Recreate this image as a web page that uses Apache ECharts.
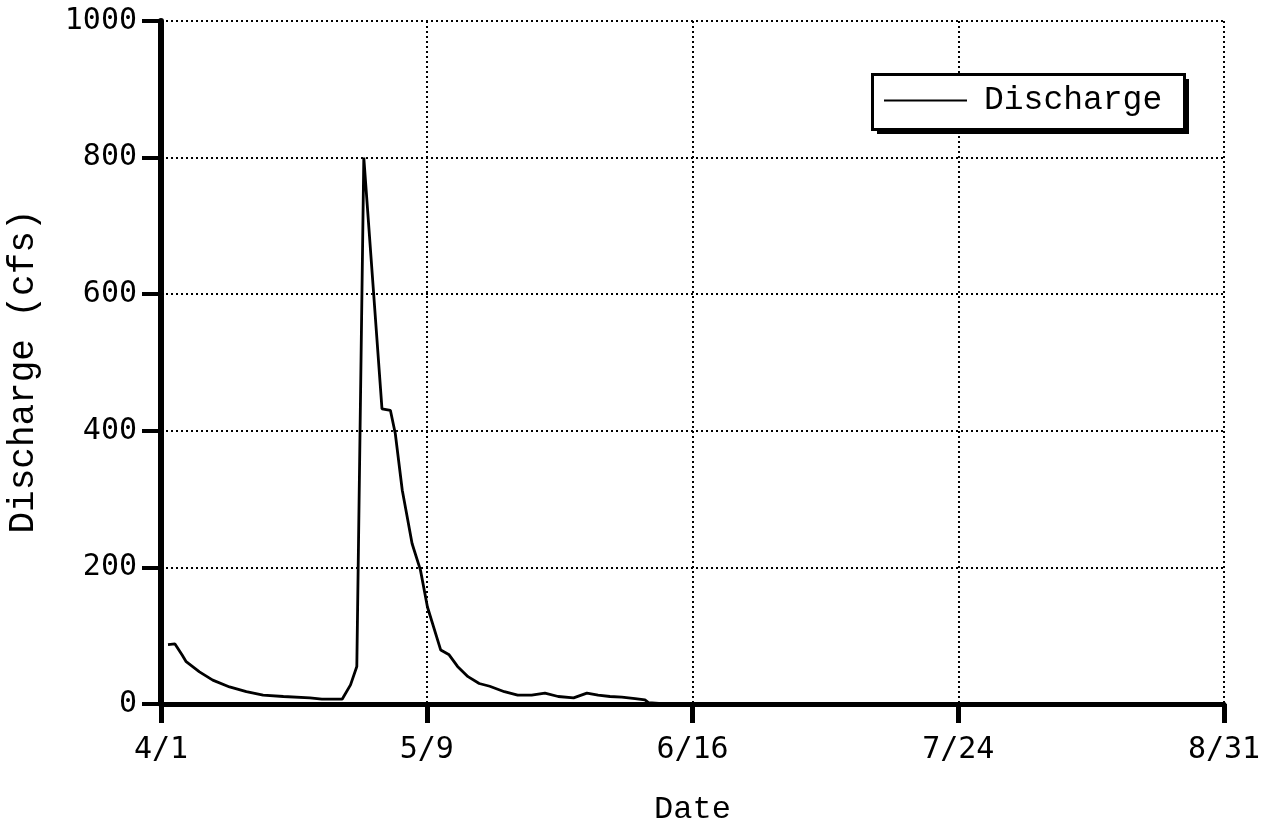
<!DOCTYPE html>
<html>
<head>
<meta charset="utf-8">
<script src="https://cdn.jsdelivr.net/npm/echarts@6/dist/echarts.min.js"></script>
<style>
html,body{margin:0;padding:0;background:#fff;}
#chart{width:1272px;height:826px;}
</style>
</head>
<body>
<div id="chart"></div>
<script>
// Days since 4/1 and discharge (cfs)
var days = [1, 2, 3, 3.6, 5.5, 7.4, 9.8, 12.2, 14.6, 17.5, 21.3, 23, 25.9, 27.1, 28, 29,
  31.6, 32.8, 33.5, 34.5, 35.2, 35.9, 37.1, 38.1, 40, 41.2, 42.4, 43.9, 45.5, 47, 49.1,
  51, 53, 54.9, 56.8, 59, 60.9, 62.5, 64.2, 65.9, 67.8, 69.2, 69.7, 71.2];
var discharge = [87, 88, 72, 62, 47, 35, 25, 18, 13, 11, 9, 7, 7, 28, 55, 800,
  432, 430, 396, 313, 274, 235, 196, 142, 79, 72, 55, 40, 30, 26, 18,
  13, 13, 16, 11, 9, 16, 13, 11, 10, 8, 6, 2, 1];
var xTickLabels = ['4/1', '5/9', '6/16', '7/24', '8/31'];
var yTickLabels = ['0', '200', '400', '600', '800', '1000'];
var seriesName = 'Discharge';
var xTitle = 'Date';
var yTitle = 'Discharge (cfs)';

var points = days.map(function (d, i) { return [d, discharge[i]]; });

var chart = echarts.init(document.getElementById('chart'), null, {renderer: 'canvas'});
var tickFont = {fontFamily: 'DejaVu Sans Mono', fontSize: 30, color: '#000'};
var gridLine = {show: true, lineStyle: {color: '#000', type: [2, 3], width: 2}};

chart.setOption({
  backgroundColor: '#fff',
  animation: false,
  grid: {left: 161, right: 48, top: 21, bottom: 122, containLabel: false, outerBoundsMode: 'none'},
  graphic: [
    {type: 'rect', left: 877, top: 79, shape: {width: 312, height: 55}, style: {fill: '#000'}, z: 10},
    {type: 'rect', left: 871, top: 73, shape: {width: 312, height: 55}, style: {fill: '#fff', stroke: '#000', lineWidth: 3}, z: 11}
  ],
  legend: {
    data: [seriesName],
    left: 871, top: 74,
    padding: [10, 20, 10, 13],
    z: 20,
    icon: 'rect',
    itemWidth: 83, itemHeight: 2,
    itemStyle: {color: '#000'},
    textStyle: {fontFamily: 'Liberation Mono', fontSize: 33, color: '#000', padding: [0, 0, 0, 12]}
  },
  xAxis: {
    type: 'value', min: 0, max: 152, interval: 38,
    name: xTitle, nameLocation: 'middle', nameGap: 90,
    nameTextStyle: {fontFamily: 'Liberation Mono', fontSize: 32, color: '#000'},
    axisLine: {show: true, onZero: false, lineStyle: {color: '#000', width: 5}},
    axisTick: {show: true, inside: false, length: 19, lineStyle: {color: '#000', width: 5}},
    axisLabel: Object.assign({margin: 31, formatter: function (v) { return xTickLabels[Math.round(v / 38)] || ''; }}, tickFont),
    splitLine: gridLine
  },
  yAxis: {
    type: 'value', min: 0, max: 1000, interval: 200,
    name: yTitle, nameLocation: 'middle', nameGap: 120, nameRotate: 90,
    nameTextStyle: {fontFamily: 'Liberation Mono', fontSize: 36, color: '#000', padding: [0, 18, 0, 0]},
    axisLine: {show: true, lineStyle: {color: '#000', width: 6}},
    axisTick: {show: true, inside: false, length: 19, lineStyle: {color: '#000', width: 4}},
    axisLabel: Object.assign({margin: 24, formatter: function (v) { return yTickLabels[Math.round(v / 200)] || ''; }}, tickFont),
    splitLine: gridLine
  },
  series: [{
    name: seriesName,
    type: 'line',
    data: points,
    symbol: 'none',
    showSymbol: false,
    lineStyle: {color: '#000', width: 2.8},
    itemStyle: {color: '#000'},
    z: 3
  }]
});
</script>
</body>
</html>
